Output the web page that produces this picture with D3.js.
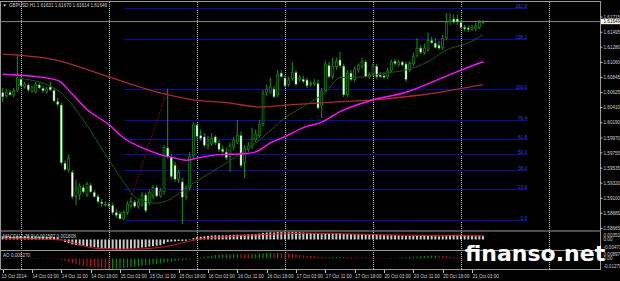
<!DOCTYPE html>
<html><head><meta charset="utf-8">
<script src="https://cdn.jsdelivr.net/npm/d3@7"></script>
<style>html,body{margin:0;padding:0;background:#000;overflow:hidden}svg{display:block}</style>
</head><body><svg id="c" width="620" height="281"></svg>
<script>
// ---------- DATA ----------
const symbolTitle = "GBPUSD,H1  1.61631 1.61670 1.61614 1.61649";
const macdTitle = "MACD(12,26,9) 0.001597 0.001808";
const aoTitle = "AO 0.000270";
const timeLabels = ["13 Oct 2014","14 Oct 03:00","14 Oct 11:00","14 Oct 19:00","15 Oct 03:00","15 Oct 11:00","15 Oct 19:00","16 Oct 03:00","16 Oct 11:00","16 Oct 19:00","17 Oct 03:00","17 Oct 11:00","17 Oct 19:00","20 Oct 03:00","20 Oct 11:00","20 Oct 19:00","21 Oct 03:00"];
const timeLabelBars = [0,8,16,24,32,40,48,56,64,72,80,88,96,104,112,120,128];
const daySeparatorBars = [5,29,53,77,101,125,149];
const priceTicks = [1.61715,1.61495,1.61280,1.61060,1.60845,1.60625,1.60410,1.60190,1.59970,1.59755,1.59535,1.59320,1.59100,1.58885,1.58665];
const opens = [1.6063,1.6058,1.6063,1.6059,1.6066,1.6082,1.6071,1.6074,1.6065,1.6063,
1.6074,1.6069,1.6063,1.6071,1.6066,1.6050,1.6045,1.5961,1.5951,1.5948,
1.5912,1.5915,1.5926,1.5915,1.5929,1.5919,1.5913,1.5905,1.5900,1.5902,
1.5900,1.5890,1.5888,1.5880,1.5889,1.5899,1.5905,1.5898,1.5900,1.5915,
1.5903,1.5913,1.5926,1.5913,1.5919,1.5983,1.5970,1.5958,1.5937,1.5934,
1.5912,1.5925,1.5971,1.6016,1.6001,1.5999,1.5986,1.5988,1.5999,1.5990,
1.5981,1.5977,1.5970,1.5984,1.5991,1.6001,1.5961,1.5980,1.5984,1.5994,
1.6000,1.6017,1.6062,1.6063,1.6068,1.6059,1.6091,1.6084,1.6074,1.6082,
1.6092,1.6081,1.6082,1.6081,1.6074,1.6075,1.6076,1.6043,1.6066,1.6102,
1.6085,1.6100,1.6110,1.6101,1.6059,1.6091,1.6081,1.6095,1.6100,1.6107,
1.6085,1.6089,1.6101,1.6088,1.6087,1.6085,1.6094,1.6108,1.6102,1.6107,
1.6104,1.6095,1.6104,1.6115,1.6127,1.6120,1.6124,1.6138,1.6134,1.6131,
1.6127,1.6141,1.6164,1.6169,1.6169,1.6164,1.6157,1.6156,1.6153,1.6154,
1.6156,1.61631];
const highs = [1.6069,1.6068,1.6066,1.6069,1.6117,1.6087,1.6078,1.6076,1.6072,1.6078,
1.6076,1.6072,1.6071,1.6078,1.6069,1.6055,1.6048,1.5965,1.5973,1.5951,
1.5937,1.5932,1.5929,1.5934,1.5932,1.5922,1.5916,1.5909,1.5906,1.5905,
1.5903,1.5895,1.5892,1.5893,1.5906,1.5911,1.5908,1.5909,1.5919,1.5918,
1.5922,1.5929,1.5929,1.5925,1.5987,1.6068,1.5974,1.5963,1.5951,1.5939,
1.5929,1.5977,1.6020,1.6019,1.6009,1.6004,1.6000,1.6004,1.6001,1.5994,
1.5986,1.5983,1.5990,1.5999,1.6023,1.6006,1.5987,1.5991,1.6012,1.6009,
1.6023,1.6066,1.6074,1.6084,1.6072,1.6095,1.6095,1.6088,1.6085,1.6107,
1.6095,1.6088,1.6087,1.6084,1.6079,1.6082,1.6081,1.6069,1.6108,1.6107,
1.6113,1.6113,1.6121,1.6104,1.6095,1.6095,1.6100,1.6105,1.6113,1.6110,
1.6092,1.6104,1.6104,1.6092,1.6092,1.6098,1.6110,1.6111,1.6110,1.6108,
1.6107,1.6108,1.6120,1.6141,1.6131,1.6133,1.6149,1.6143,1.6141,1.6137,
1.6146,1.6177,1.6177,1.6175,1.6175,1.6167,1.6160,1.6159,1.6160,1.6163,
1.6167,1.61670];
const lows = [1.6049,1.6055,1.6058,1.6056,1.6063,1.6071,1.6068,1.6063,1.6062,1.6061,
1.6068,1.6062,1.6061,1.6065,1.6048,1.6042,1.5958,1.5950,1.5947,1.5909,
1.5900,1.5908,1.5916,1.5912,1.5918,1.5911,1.5902,1.5898,1.5898,1.5896,
1.5886,1.5882,1.5881,1.5879,1.5886,1.5895,1.5896,1.5895,1.5898,1.5889,
1.5900,1.5909,1.5911,1.5911,1.5915,1.5967,1.5937,1.5934,1.5932,1.5873,
1.5908,1.5922,1.5968,1.5996,1.5993,1.5983,1.5981,1.5986,1.5987,1.5977,
1.5975,1.5965,1.5948,1.5980,1.5988,1.5954,1.5939,1.5977,1.5981,1.5991,
1.5997,1.6014,1.6058,1.6061,1.6055,1.6056,1.6084,1.6069,1.6071,1.6079,
1.6072,1.6078,1.6076,1.6069,1.6071,1.6072,1.6038,1.6026,1.6063,1.6084,
1.6082,1.6095,1.6098,1.6056,1.6056,1.6079,1.6078,1.6091,1.6097,1.6084,
1.6082,1.6087,1.6082,1.6084,1.6082,1.6082,1.6092,1.6101,1.6100,1.6100,
1.6078,1.6092,1.6101,1.6114,1.6118,1.6117,1.6121,1.6133,1.6126,1.6124,
1.6124,1.6138,1.6160,1.6162,1.6160,1.6153,1.6151,1.6150,1.6151,1.6151,
1.6154,1.61614];
const closes = [1.6056,1.6063,1.6059,1.6066,1.6084,1.6072,1.6075,1.6066,1.6071,1.6075,
1.6069,1.6065,1.6068,1.6066,1.6050,1.6045,1.5961,1.5951,1.5968,1.5912,
1.5925,1.5928,1.5919,1.5931,1.5919,1.5912,1.5905,1.5902,1.5902,1.5899,
1.5889,1.5885,1.5880,1.5890,1.5902,1.5906,1.5898,1.5905,1.5915,1.5892,
1.5919,1.5926,1.5913,1.5921,1.5984,1.5970,1.5941,1.5937,1.5948,1.5911,
1.5925,1.5971,1.6016,1.5999,1.5996,1.5986,1.5993,1.5997,1.5990,1.5980,
1.5977,1.5968,1.5986,1.5994,1.6001,1.5957,1.5983,1.5986,1.5996,1.6003,
1.6017,1.6061,1.6068,1.6071,1.6056,1.6089,1.6085,1.6072,1.6081,1.6092,
1.6074,1.6085,1.6078,1.6072,1.6076,1.6078,1.6040,1.6065,1.6104,1.6085,
1.6101,1.6108,1.6101,1.6059,1.6091,1.6081,1.6097,1.6102,1.6107,1.6085,
1.6089,1.6101,1.6085,1.6085,1.6084,1.6094,1.6107,1.6104,1.6107,1.6102,
1.6081,1.6105,1.6115,1.6127,1.6120,1.6127,1.6138,1.6134,1.6127,1.6126,
1.6141,1.6164,1.6167,1.6164,1.6164,1.6156,1.6154,1.6153,1.6157,1.6159,
1.6164,1.61649];
// moving averages, read at sample bars: [bar, price]
const maMagenta = [[0,1.6089],[8,1.6086],[15,1.6080],[19,1.6060],[23,1.6038],[29,1.6016],[33,1.5997],[38,1.5983],[43,1.5973],[47,1.5968],[50,1.5965],[53,1.5968],[59,1.5973],[65,1.5974],[69,1.5977],[73,1.5990],[77,1.5999],[82,1.6012],[87,1.6020],[92,1.6035],[101,1.6052],[110,1.6063],[120,1.6084],[125,1.6095],[131,1.6107]];
const maBrown = [[0,1.6118],[14,1.6110],[29,1.6085],[43,1.6062],[52,1.6052],[61,1.6048],[70,1.6042],[79,1.6045],[88,1.6048],[101,1.6052],[114,1.6059],[131,1.6074]];
const maGreen = [[5,1.6083],[15,1.6066],[22,1.6023],[29,1.5965],[34,1.5926],[36,1.5912],[42,1.5903],[44,1.5905],[52,1.5932],[61,1.5961],[70,1.5994],[77,1.6026],[85,1.6052],[88,1.6063],[92,1.6084],[98,1.6085],[105,1.6091],[110,1.6095],[116,1.6107],[121,1.6124],[127,1.6134],[131,1.6146]];
// fibonacci
const fibLowBar = 33, fibLow = 1.5879, fibHighBar = 45, fibHigh = 1.6068, fibEndBar = 143;
const fibLevels = [0, 23.6, 38.2, 50.0, 61.8, 76.4, 100.0, 138.2, 161.8];
// MACD main (histogram) and signal
const macd = [0.0015,0.0015,0.0014,0.0014,0.0016,0.0016,0.0016,0.0015,
0.0015,0.0015,0.0014,0.0014,0.0013,0.0013,0.0012,0.0010,
-0.0003,-0.0012,-0.0017,-0.0023,-0.0026,-0.0028,-0.0030,-0.0032,
-0.0034,-0.0036,-0.0038,-0.0040,-0.0042,-0.0044,-0.0046,-0.0047,
-0.0047,-0.0046,-0.0045,-0.0043,-0.0042,-0.0040,-0.0038,-0.0037,
-0.0034,-0.0031,-0.0029,-0.0027,-0.0020,-0.0012,-0.0010,-0.0009,
-0.0007,-0.0008,-0.0006,-0.0001,0.0006,0.0010,0.0013,0.0015,
0.0017,0.0019,0.0020,0.0020,0.0020,0.0020,0.0021,0.0022,
0.0023,0.0022,0.0023,0.0024,0.0025,0.0026,0.0028,0.0031,
0.0033,0.0034,0.0033,0.0035,0.0035,0.0034,0.0034,0.0035,
0.0034,0.0034,0.0033,0.0032,0.0031,0.0030,0.0026,0.0025,
0.0027,0.0027,0.0028,0.0029,0.0029,0.0026,0.0026,0.0025,
0.0025,0.0025,0.0025,0.0024,0.0023,0.0023,0.0022,0.0021,
0.0020,0.0020,0.0020,0.0020,0.0019,0.0019,0.0017,0.0017,
0.0017,0.0018,0.0017,0.0017,0.0018,0.0017,0.0016,0.0015,
0.0016,0.0019,0.0021,0.0022,0.0022,0.0021,0.0019,0.0018,
0.0017,0.0016,0.0016,0.001597];
const macdSignal = [[0,0.0006],[16,-0.0002],[21,-0.0025],[26,-0.0042],[36,-0.0045],[45,-0.0032],[53,0.0000],[63,0.0016],[72,0.0024],[84,0.0029],[95,0.0026],[105,0.0022],[118,0.0018],[131,0.001808]];
const ao = [-0.0006,-0.0007,-0.0006,-0.0005,-0.0003,-0.0002,-0.0002,-0.0003,-0.0002,-0.0001,-0.0002,-0.0003,-0.0003,-0.0004,-0.0006,-0.0009,
-0.0018,-0.0032,-0.0045,-0.0058,-0.0070,-0.0080,-0.0089,-0.0097,-0.0104,-0.0111,-0.0117,-0.0122,-0.0126,-0.0128,
-0.0126,-0.0123,-0.0120,-0.0116,-0.0111,-0.0106,-0.0101,-0.0095,-0.0089,-0.0084,-0.0078,-0.0072,-0.0066,-0.0060,-0.0052,-0.0044,-0.0038,-0.0032,-0.0026,
-0.0022,-0.0018,-0.0012,-0.0005,0.0003,
0.0012,0.0020,0.0027,0.0034,0.0040,0.0044,0.0047,0.0049,0.0050,0.0052,0.0054,0.0053,0.0051,0.0050,0.0051,0.0054,0.0058,0.0062,0.0065,0.0067,0.0066,0.0067,0.0065,0.0061,0.0056,0.0051,0.0046,0.0042,0.0037,0.0033,0.0029,
0.0026,0.0022,0.0019,0.0017,0.0016,0.0016,0.0017,0.0018,0.0016,0.0015,
0.0014,0.0012,0.0011,0.0011,0.0010,0.0009,0.0007,0.0006,0.0004,0.0003,
0.0003,0.0004,0.0006,0.0009,0.0011,0.0014,0.0017,0.0020,0.0023,0.0026,
0.0029,0.0032,0.0034,0.0035,0.0033,0.0030,0.0026,0.0022,0.0018,0.0014,
0.0011,0.0008,0.0006,0.0005,0.0004,0.0003,0.00027];
const macdRange = [-0.004712, 0.003524];
const aoRange = [-0.012799, 0.008974];

// ---------- DRAW ----------
const svg = d3.select('#c');
const FONT = "'Liberation Sans', Arial, sans-serif";
const n = closes.length;
const x = d3.scaleLinear().domain([0, 131]).range([2.67, 483.0]);
const y = d3.scaleLinear().domain([1.58665, 1.61715]).range([228.5, 17]);
const yM = d3.scaleLinear().domain(macdRange).range([249.5, 232]);
const yA = d3.scaleLinear().domain(aoRange).range([269, 251]);

svg.append('rect').attr('width', 620).attr('height', 281).attr('fill', '#000');
const defs = svg.append('defs');
defs.append('clipPath').attr('id', 'cm').append('rect').attr('x', 1).attr('y', 2).attr('width', 599).attr('height', 228.5);
defs.append('clipPath').attr('id', 'cmacd').append('rect').attr('x', 1).attr('y', 231.5).attr('width', 599).attr('height', 18.5);
defs.append('clipPath').attr('id', 'cao').append('rect').attr('x', 1).attr('y', 251).attr('width', 599).attr('height', 18);

// grid separators
svg.append('g').selectAll('line').data(daySeparatorBars).join('line')
  .attr('x1', d => Math.round(x(d)) + 0.5).attr('x2', d => Math.round(x(d)) + 0.5)
  .attr('y1', 2).attr('y2', 269).attr('stroke', '#b8b8b8').attr('stroke-dasharray', '1,1');

const main = svg.append('g').attr('clip-path', 'url(#cm)');

// fib levels
const fibY = l => y(fibLow + (fibHigh - fibLow) * l / 100);
main.append('g').selectAll('line').data(fibLevels).join('line')
  .attr('x1', x(fibLowBar)).attr('x2', x(fibEndBar))
  .attr('y1', d => Math.round(fibY(d)) + 0.5).attr('y2', d => Math.round(fibY(d)) + 0.5)
  .attr('stroke', '#0c0ca4').attr('stroke-width', 1);
main.append('g').selectAll('text').data(fibLevels).join('text')
  .attr('x', x(fibEndBar)).attr('y', d => Math.round(fibY(d)) - 0.3)
  .attr('text-anchor', 'end').attr('font-family', FONT).attr('font-size', 4.6)
  .attr('fill', '#3a46d8').text(d => d.toFixed(1));
main.append('line')
  .attr('x1', x(fibLowBar)).attr('y1', y(fibLow)).attr('x2', x(fibHighBar)).attr('y2', y(fibHigh))
  .attr('stroke', '#b01818').attr('stroke-width', 1).attr('stroke-dasharray', '1,1.5');

// bid line
main.append('line').attr('x1', 1).attr('x2', 600)
  .attr('y1', y(closes[n - 1])).attr('y2', y(closes[n - 1]))
  .attr('stroke', '#7a8890').attr('stroke-width', 1);

// candles
const idx = d3.range(n);
const GREEN = '#1a961a';
main.append('g').selectAll('line').data(idx).join('line')
  .attr('x1', i => x(i)).attr('x2', i => x(i))
  .attr('y1', i => y(highs[i])).attr('y2', i => y(lows[i]))
  .attr('stroke', GREEN).attr('stroke-width', 1);
main.append('g').selectAll('rect').data(idx).join('rect')
  .attr('x', i => x(i) - 1.3).attr('width', 2.6)
  .attr('y', i => Math.min(y(opens[i]), y(closes[i])))
  .attr('height', i => Math.max(0.8, Math.abs(y(opens[i]) - y(closes[i]))))
  .attr('fill', GREEN);
main.append('g').selectAll('rect').data(idx.filter(i => Math.abs(y(opens[i]) - y(closes[i])) > 1.6)).join('rect')
  .attr('x', i => closes[i] < opens[i] ? x(i) - 0.8 : x(i) - 0.6)
  .attr('width', i => closes[i] < opens[i] ? 1.6 : 1.2)
  .attr('y', i => Math.min(y(opens[i]), y(closes[i])) + 0.6)
  .attr('height', i => Math.abs(y(opens[i]) - y(closes[i])) - 1.2)
  .attr('fill', i => closes[i] < opens[i] ? '#ffffff' : '#000000');

// moving averages
const maLine = d3.line().x(d => x(d[0])).y(d => y(d[1])).curve(d3.curveMonotoneX);
main.append('path').datum(maBrown).attr('d', maLine).attr('fill', 'none').attr('stroke', '#a82c2c').attr('stroke-width', 1.3);
main.append('path').datum(maGreen).attr('d', maLine).attr('fill', 'none').attr('stroke', '#145c14').attr('stroke-width', 1);
main.append('path').datum(maMagenta).attr('d', maLine).attr('fill', 'none').attr('stroke', '#ff10ff').attr('stroke-width', 1.4);

// MACD panel
const gm = svg.append('g').attr('clip-path', 'url(#cmacd)');
gm.append('g').selectAll('rect').data(idx).join('rect')
  .attr('x', i => x(i) - 1).attr('width', 2)
  .attr('y', i => Math.min(yM(0), yM(macd[i])))
  .attr('height', i => Math.max(0.5, Math.abs(yM(macd[i]) - yM(0))))
  .attr('fill', '#c8c8c8');
gm.append('path').datum(macdSignal)
  .attr('d', d3.line().x(d => x(d[0])).y(d => yM(d[1])).curve(d3.curveMonotoneX))
  .attr('fill', 'none').attr('stroke', '#d41c1c').attr('stroke-width', 1);

// AO panel
const ga = svg.append('g').attr('clip-path', 'url(#cao)');
ga.append('g').selectAll('rect').data(idx).join('rect')
  .attr('x', i => x(i) - 0.6).attr('width', 1.2)
  .attr('y', i => Math.min(yA(0), yA(ao[i])))
  .attr('height', i => Math.max(0.5, Math.abs(yA(ao[i]) - yA(0))))
  .attr('fill', i => (i > 0 && ao[i] < ao[i - 1]) ? '#b41414' : '#0e8a0e');

// frames
const frame = svg.append('g').attr('stroke', '#9a9a9a').attr('stroke-width', 1);
frame.append('line').attr('x1', 0.5).attr('x2', 0.5).attr('y1', 1).attr('y2', 270);
frame.append('line').attr('x1', 600.5).attr('x2', 600.5).attr('y1', 1).attr('y2', 270);
[1.5, 231, 250.5, 269.5].forEach(v => frame.append('line').attr('x1', 0).attr('x2', 601).attr('y1', v).attr('y2', v));

// titles
svg.append('path').attr('d', 'M3,4.4 L6.4,4.4 L4.7,6.6 Z').attr('fill', '#d0d0d0');
const txt = (gx, gy, s, anchor) => svg.append('text').attr('x', gx).attr('y', gy)
  .attr('font-family', FONT).attr('font-size', 4.6).attr('fill', '#d0d0d0')
  .attr('text-anchor', anchor || 'start').text(s);
txt(9, 7.4, symbolTitle);
txt(3, 237.6, macdTitle);
txt(3, 256.6, aoTitle);

// price axis
const ya = svg.append('g');
ya.selectAll('line').data(priceTicks).join('line')
  .attr('x1', 600).attr('x2', 602.5).attr('y1', d => y(d)).attr('y2', d => y(d)).attr('stroke', '#c0c0c0');
ya.selectAll('text').data(priceTicks).join('text')
  .attr('x', 603.5).attr('y', d => y(d) + 1.6)
  .attr('font-family', FONT).attr('font-size', 4.6).attr('fill', '#d0d0d0').text(d => d.toFixed(5));
const lastY = y(closes[n - 1]);
svg.append('rect').attr('x', 601).attr('y', lastY - 2.8).attr('width', 19).attr('height', 5.4).attr('fill', '#ffffff');
svg.append('text').attr('x', 603.5).attr('y', lastY + 1.6).attr('font-family', FONT).attr('font-size', 4.6)
  .attr('fill', '#000').text(closes[n - 1].toFixed(5));

// sub-panel axis labels
const subLabels = [[macdRange[1], yM(macdRange[1]) + 3], [0, yM(0)], [macdRange[0], yM(macdRange[0]) - 2.5],
                   [aoRange[1], yA(aoRange[1]) + 3], [0, yA(0)], [aoRange[0], yA(aoRange[0]) - 2.5]];
svg.append('g').selectAll('text').data(subLabels).join('text')
  .attr('x', 603.5).attr('y', d => d[1] + 1.6)
  .attr('font-family', FONT).attr('font-size', 4.6).attr('fill', '#d0d0d0')
  .text(d => d[0] === 0 ? '0.00' : d[0].toFixed(6));

// time axis
const ta = svg.append('g');
ta.selectAll('line').data(timeLabelBars).join('line')
  .attr('x1', d => Math.round(x(d)) + 0.5).attr('x2', d => Math.round(x(d)) + 0.5)
  .attr('y1', 270).attr('y2', 273).attr('stroke', '#c0c0c0');
ta.selectAll('text').data(timeLabelBars).join('text')
  .attr('x', (d, i) => i === 0 ? 1.5 : x(d) + 0.5).attr('y', 277.8)
  .attr('font-family', FONT).attr('font-size', 4.6).attr('fill', '#d0d0d0')
  .text((d, i) => timeLabels[i]);

// watermark
svg.append('text').attr('x', 465).attr('y', 261)
  .attr('font-family', "'DejaVu Sans', sans-serif").attr('font-weight', 'bold').attr('font-size', 22)
  .attr('fill', '#ffffff').text('finanso.net');
</script></body></html>
